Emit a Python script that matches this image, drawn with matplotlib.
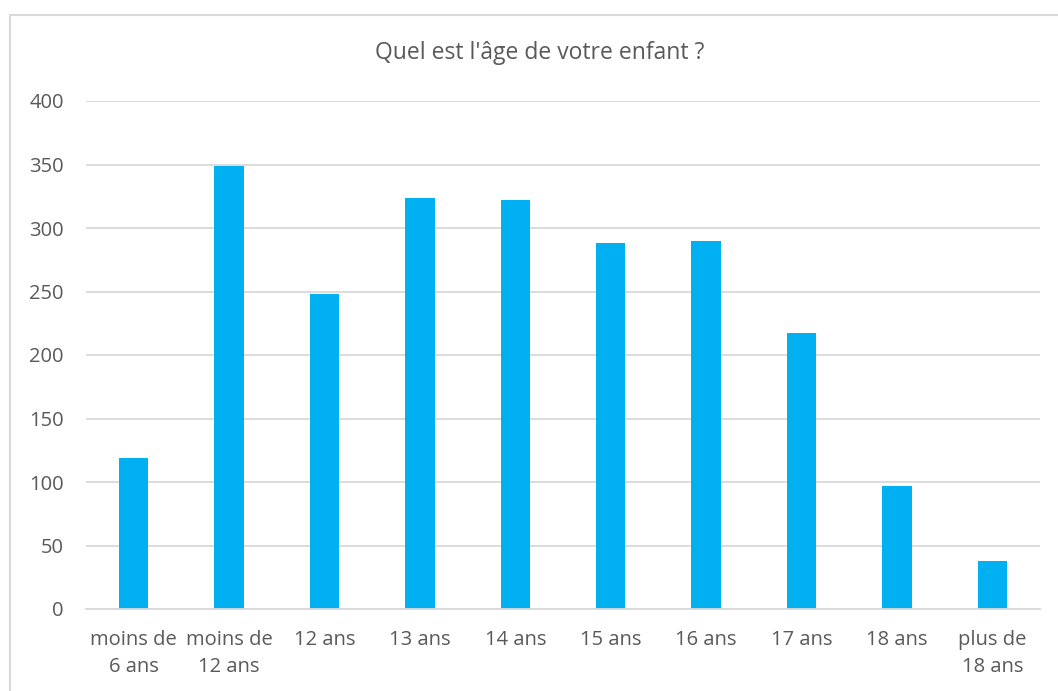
import matplotlib.pyplot as plt
from matplotlib.patches import Rectangle

categories = ["moins de\n6 ans", "moins de\n12 ans", "12 ans", "13 ans", "14 ans",
              "15 ans", "16 ans", "17 ans", "18 ans", "plus de\n18 ans"]
counts = [119, 349, 248, 324, 322, 288, 290, 217, 97, 38]
yticks = [0, 50, 100, 150, 200, 250, 300, 350, 400]

BAR_COLOR = "#00b0f0"
GRID_COLOR = "#d9d9d9"
TEXT_COLOR = "#595959"

plt.rcParams["font.family"] = ["Open Sans", "DejaVu Sans"]

W, H = 1058, 691
fig = plt.figure(figsize=(W / 100, H / 100), dpi=100)

# chart frame (runs off the right/bottom edge)
fig.patches.append(Rectangle((10 / W, -0.1), 1.2, 1 - 15 / H + 0.1,
                             transform=fig.transFigure, fill=False,
                             edgecolor=GRID_COLOR, linewidth=1.5))

ax = fig.add_axes([86 / W, 1 - 609 / H, (1040 - 86) / W, (609 - 101) / H])
x = range(len(categories))
ax.bar(x, counts, width=0.31, color=BAR_COLOR, zorder=2)

ax.set_xlim(-0.5, len(categories) - 0.5)
ax.set_ylim(0, 400)
ax.set_yticks(yticks)
ax.set_yticklabels([str(v) for v in yticks])
ax.set_xticks(list(x))
ax.set_xticklabels(categories, linespacing=1.5)

ax.grid(axis="y", color=GRID_COLOR, linewidth=1.3, zorder=0)
for s in ["left", "right", "top"]:
    ax.spines[s].set_visible(False)
ax.spines["bottom"].set_color(GRID_COLOR)
ax.spines["bottom"].set_linewidth(1.3)
ax.tick_params(axis="both", length=0, labelsize=14.5, labelcolor=TEXT_COLOR)
ax.tick_params(axis="y", pad=16)
ax.tick_params(axis="x", pad=15)

fig.text(540 / W, 1 - 53 / H, "Quel est l'âge de votre enfant ?", ha="center",
         va="center", fontsize=16.5, color=TEXT_COLOR)

fig.savefig("out.png", dpi=100)
